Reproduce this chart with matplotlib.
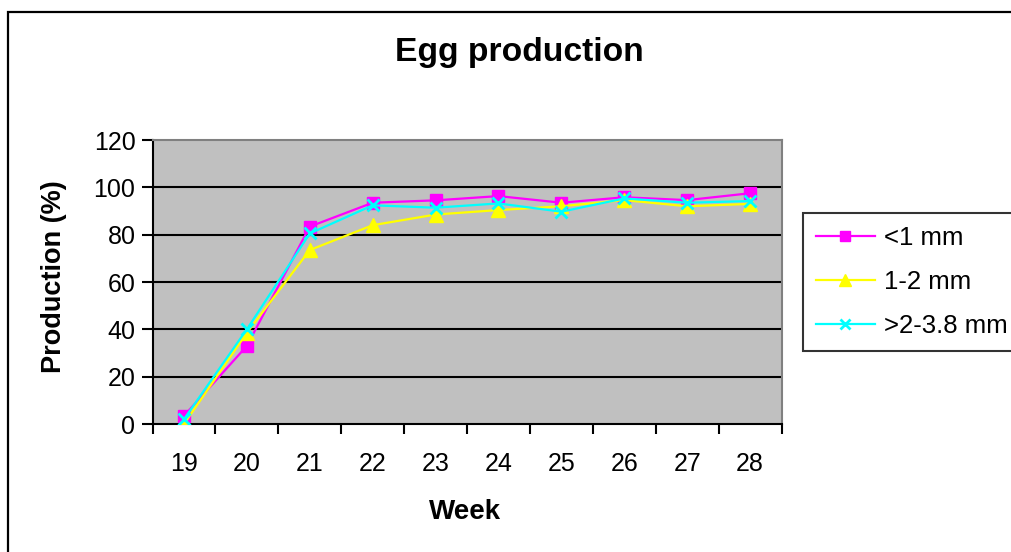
import matplotlib
matplotlib.use('Agg')
import matplotlib.pyplot as plt
from matplotlib.patches import Rectangle

plt.rcParams['font.family'] = ['Liberation Sans', 'DejaVu Sans']

# Data
weeks = ['19', '20', '21', '22', '23', '24', '25', '26', '27', '28']
lt1mm = [3.4, 33, 83.4, 93.5, 94.5, 96.3, 93.5, 95.8, 94.6, 97.5]
mm1_2 = [0, 38.5, 73.5, 84, 88.5, 90.4, 92, 94.6, 92, 93]
gt2mm = [2, 40, 80.5, 92.4, 91.4, 93.2, 89.7, 95.3, 93.5, 94.2]
series_labels = ['<1 mm', '1-2 mm', '>2-3.8 mm']

W, H = 1011, 552
fig = plt.figure(figsize=(W / 100, H / 100), dpi=100)

# outer chart border (runs off the right and bottom edges)
fig.patches.append(Rectangle((8 / W, -0.1), 1.1, (H - 11.5) / H + 0.1,
                             transform=fig.transFigure, fill=False,
                             edgecolor='black', linewidth=1.6))

ax = fig.add_axes([152.5 / W, 1 - 424 / H, 629 / W, 284 / H])
ax.set_facecolor('#C0C0C0')

x = list(range(len(weeks)))
ax.plot(x, lt1mm, color='#FF00FF', marker='s', markersize=8.5, linewidth=1.6,
        label=series_labels[0], zorder=3)
ax.plot(x, mm1_2, color='#FFFF00', marker='^', markersize=10, linewidth=1.6,
        label=series_labels[1], zorder=4)
ax.plot(x, gt2mm, color='#00FFFF', marker='x', markersize=8, markeredgewidth=2,
        linewidth=1.6, label=series_labels[2], zorder=5)

ax.set_xlim(-0.5, len(weeks) - 0.5)
ax.set_ylim(0, 120)
ax.set_yticks(range(0, 121, 20))
for v in range(20, 101, 20):
    ax.axhline(v, color='black', linewidth=1.5, zorder=1)

# ticks at category boundaries, labels at centres
ax.set_xticks([i - 0.5 for i in range(len(weeks) + 1)])
ax.set_xticklabels([])
ax.set_xticks(x, minor=True)
ax.set_xticklabels(weeks, minor=True)
ax.tick_params(axis='x', which='major', direction='out', length=7.5, width=1.5)
ax.tick_params(axis='x', which='minor', length=0, pad=20, labelsize=18)
ax.tick_params(axis='y', direction='out', length=7.8, width=1.5, pad=4.5,
               labelsize=18)

for side in ['left', 'bottom']:
    ax.spines[side].set_linewidth(1.5)
    ax.spines[side].set_color('black')
for side in ['top', 'right']:
    ax.spines[side].set_linewidth(1.5)
    ax.spines[side].set_color('#808080')

fig.text(519 / W, 1 - 52 / H, 'Egg production', fontsize=24.2, fontweight='bold',
         ha='center', va='center')
fig.text(54 / W, 1 - 277 / H, 'Production (%)', fontsize=19.5, fontweight='bold',
         rotation=90, ha='center', va='center')
fig.text(465 / W, 1 - 512 / H, 'Week', fontsize=20, fontweight='bold',
         ha='center', va='center')

leg = fig.legend(loc='upper left', bbox_to_anchor=(803 / W, 1 - 213 / H),
                 frameon=True, fancybox=False, fontsize=18.5, handlelength=2.3,
                 labelspacing=0.78, borderpad=0.5, handletextpad=0.35,
                 borderaxespad=0, markerscale=0.9)
leg.get_frame().set_edgecolor('black')
leg.get_frame().set_linewidth(1.5)

fig.savefig('out.png', dpi=100)
